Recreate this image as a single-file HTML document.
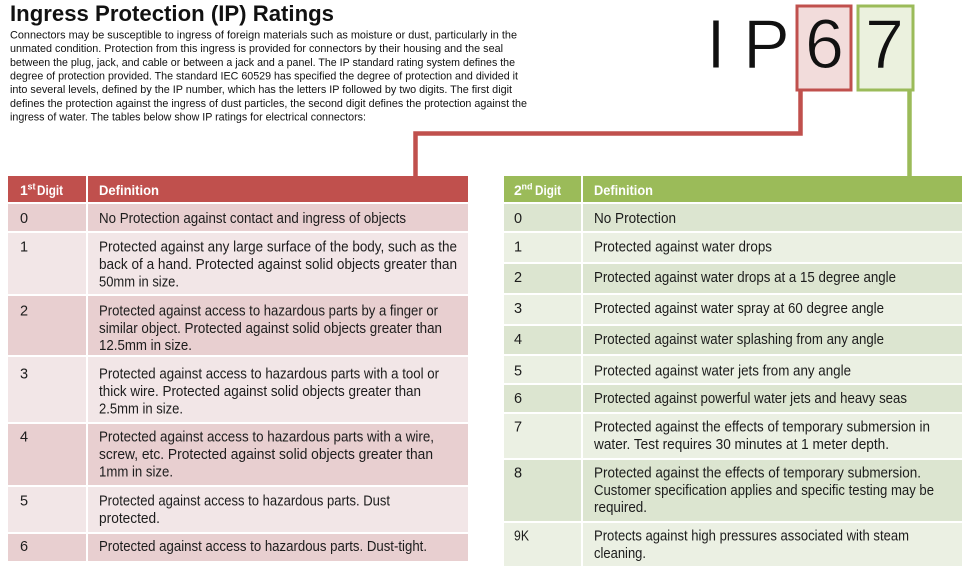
<!DOCTYPE html>
<html><head><meta charset="utf-8"><style>
html,body{margin:0;padding:0;background:#fff;}
svg{display:block;}
text{font-family:"Liberation Sans",Arial,sans-serif;}
.p{font-size:11.2px;fill:#111;}
.h{font-size:14px;font-weight:bold;fill:#fff;}
.b{font-size:14.5px;fill:#1c1c1c;}
.big{font-size:70px;fill:#111;}
</style></head><body>
<svg width="967" height="566" viewBox="0 0 967 566" xmlns="http://www.w3.org/2000/svg">
<rect width="967" height="566" fill="#fff"/>
<!-- Title -->
<text x="10" y="21" font-size="22" font-weight="bold" fill="#111" textLength="324" lengthAdjust="spacingAndGlyphs">Ingress Protection (IP) Ratings</text>
<!-- Paragraph -->
<text class="p" x="10" y="38.5" textLength="507" lengthAdjust="spacingAndGlyphs">Connectors may be susceptible to ingress of foreign materials such as moisture or dust, particularly in the</text>
<text class="p" x="10" y="52.2" textLength="493" lengthAdjust="spacingAndGlyphs">unmated condition. Protection from this ingress is provided for connectors by their housing and the seal</text>
<text class="p" x="10" y="65.8" textLength="505" lengthAdjust="spacingAndGlyphs">between the plug, jack, and cable or between a jack and a panel. The IP standard rating system defines the</text>
<text class="p" x="10" y="79.5" textLength="508" lengthAdjust="spacingAndGlyphs">degree of protection provided. The standard IEC 60529 has specified the degree of protection and divided it</text>
<text class="p" x="10" y="93.2" textLength="502" lengthAdjust="spacingAndGlyphs">into several levels, defined by the IP number, which has the letters IP followed by two digits. The first digit</text>
<text class="p" x="10" y="106.8" textLength="517" lengthAdjust="spacingAndGlyphs">defines the protection against the ingress of dust particles, the second digit defines the protection against the</text>
<text class="p" x="10" y="120.5" textLength="356" lengthAdjust="spacingAndGlyphs">ingress of water. The tables below show IP ratings for electrical connectors:</text>

<!-- IP67 graphic -->
<rect x="797" y="6" width="54" height="84" fill="#f2dcdb" stroke="#c0504d" stroke-width="3"/>
<rect x="858" y="6" width="55" height="84" fill="#ebf1de" stroke="#9bbb59" stroke-width="3"/>
<text class="big" x="716" y="68" text-anchor="middle" stroke="#fff" stroke-width="1">I</text>
<text class="big" x="766.5" y="68" text-anchor="middle" stroke="#fff" stroke-width="1">P</text>
<text class="big" x="824.5" y="68" text-anchor="middle" stroke="#f2dcdb" stroke-width="1">6</text>
<text class="big" x="884.5" y="68" text-anchor="middle" stroke="#ebf1de" stroke-width="1">7</text>
<path d="M800.5 91.5 V133.5 H415.5 V177" fill="none" stroke="#c0504d" stroke-width="4.5"/>
<path d="M909.5 91.5 V177" fill="none" stroke="#9bbb59" stroke-width="4.5"/>

<!-- LEFT TABLE -->
<rect x="8" y="176" width="460" height="26" fill="#c0504d"/>
<rect x="8" y="204" width="460" height="27" fill="#e8cfd0"/>
<rect x="8" y="233" width="460" height="61" fill="#f2e6e7"/>
<rect x="8" y="296" width="460" height="59" fill="#e8cfd0"/>
<rect x="8" y="357" width="460" height="65" fill="#f2e6e7"/>
<rect x="8" y="424" width="460" height="61" fill="#e8cfd0"/>
<rect x="8" y="487" width="460" height="45" fill="#f2e6e7"/>
<rect x="8" y="534" width="460" height="27" fill="#e8cfd0"/>
<rect x="86" y="176" width="2" height="386" fill="#fff"/>

<text class="h" x="20" y="195">1</text>
<text x="27.5" y="189.5" font-size="9" font-weight="bold" fill="#fff">st</text>
<text class="h" x="37" y="195" textLength="26" lengthAdjust="spacingAndGlyphs">Digit</text>
<text class="h" x="99" y="195" textLength="60" lengthAdjust="spacingAndGlyphs">Definition</text>

<text class="b" x="20" y="223">0</text>
<text class="b" x="99" y="223" textLength="307" lengthAdjust="spacingAndGlyphs">No Protection against contact and ingress of objects</text>

<text class="b" x="20" y="251.5">1</text>
<text class="b" x="99" y="251.5" textLength="358" lengthAdjust="spacingAndGlyphs">Protected against any large surface of the body, such as the</text>
<text class="b" x="99" y="269" textLength="358" lengthAdjust="spacingAndGlyphs">back of a hand. Protected against solid objects greater than</text>
<text class="b" x="99" y="286.5" textLength="80" lengthAdjust="spacingAndGlyphs">50mm in size.</text>

<text class="b" x="20" y="315.5">2</text>
<text class="b" x="99" y="315.5" textLength="339" lengthAdjust="spacingAndGlyphs">Protected against access to hazardous parts by a finger or</text>
<text class="b" x="99" y="332.8" textLength="343" lengthAdjust="spacingAndGlyphs">similar object. Protected against solid objects greater than</text>
<text class="b" x="99" y="350" textLength="93" lengthAdjust="spacingAndGlyphs">12.5mm in size.</text>

<text class="b" x="20" y="378.5">3</text>
<text class="b" x="99" y="378.5" textLength="340" lengthAdjust="spacingAndGlyphs">Protected against access to hazardous parts with a tool or</text>
<text class="b" x="99" y="396" textLength="322" lengthAdjust="spacingAndGlyphs">thick wire. Protected against solid objects greater than</text>
<text class="b" x="99" y="413.5" textLength="84" lengthAdjust="spacingAndGlyphs">2.5mm in size.</text>

<text class="b" x="20" y="441.5">4</text>
<text class="b" x="99" y="441.5" textLength="335" lengthAdjust="spacingAndGlyphs">Protected against access to hazardous parts with a wire,</text>
<text class="b" x="99" y="459" textLength="334" lengthAdjust="spacingAndGlyphs">screw, etc. Protected against solid objects greater than</text>
<text class="b" x="99" y="476.5" textLength="74" lengthAdjust="spacingAndGlyphs">1mm in size.</text>

<text class="b" x="20" y="505.5">5</text>
<text class="b" x="99" y="505.5" textLength="291" lengthAdjust="spacingAndGlyphs">Protected against access to hazardous parts. Dust</text>
<text class="b" x="99" y="523" textLength="61" lengthAdjust="spacingAndGlyphs">protected.</text>

<text class="b" x="20" y="551">6</text>
<text class="b" x="99" y="551" textLength="328" lengthAdjust="spacingAndGlyphs">Protected against access to hazardous parts. Dust-tight.</text>

<!-- RIGHT TABLE -->
<rect x="504" y="176" width="458" height="26" fill="#9bbb59"/>
<rect x="504" y="204" width="458" height="27" fill="#dce5d0"/>
<rect x="504" y="233" width="458" height="29" fill="#ebf0e3"/>
<rect x="504" y="264" width="458" height="29" fill="#dce5d0"/>
<rect x="504" y="295" width="458" height="29" fill="#ebf0e3"/>
<rect x="504" y="326" width="458" height="28" fill="#dce5d0"/>
<rect x="504" y="356" width="458" height="27" fill="#ebf0e3"/>
<rect x="504" y="385" width="458" height="27" fill="#dce5d0"/>
<rect x="504" y="414" width="458" height="44" fill="#ebf0e3"/>
<rect x="504" y="460" width="458" height="61" fill="#dce5d0"/>
<rect x="504" y="523" width="458" height="43" fill="#ebf0e3"/>
<rect x="581" y="176" width="2" height="390" fill="#fff"/>

<text class="h" x="514" y="195">2</text>
<text x="521.5" y="189.5" font-size="9" font-weight="bold" fill="#fff">nd</text>
<text class="h" x="535" y="195" textLength="26" lengthAdjust="spacingAndGlyphs">Digit</text>
<text class="h" x="594" y="195" textLength="59" lengthAdjust="spacingAndGlyphs">Definition</text>

<text class="b" x="514" y="223">0</text>
<text class="b" x="594" y="223" textLength="82" lengthAdjust="spacingAndGlyphs">No Protection</text>
<text class="b" x="514" y="251.5">1</text>
<text class="b" x="594" y="251.5" textLength="178" lengthAdjust="spacingAndGlyphs">Protected against water drops</text>
<text class="b" x="514" y="282">2</text>
<text class="b" x="594" y="282" textLength="302" lengthAdjust="spacingAndGlyphs">Protected against water drops at a 15 degree angle</text>
<text class="b" x="514" y="313">3</text>
<text class="b" x="594" y="313" textLength="290" lengthAdjust="spacingAndGlyphs">Protected against water spray at 60 degree angle</text>
<text class="b" x="514" y="343.8">4</text>
<text class="b" x="594" y="343.8" textLength="290" lengthAdjust="spacingAndGlyphs">Protected against water splashing from any angle</text>
<text class="b" x="514" y="375.5">5</text>
<text class="b" x="594" y="375.5" textLength="257" lengthAdjust="spacingAndGlyphs">Protected against water jets from any angle</text>
<text class="b" x="514" y="403">6</text>
<text class="b" x="594" y="403" textLength="313" lengthAdjust="spacingAndGlyphs">Protected against powerful water jets and heavy seas</text>
<text class="b" x="514" y="431.5">7</text>
<text class="b" x="594" y="431.5" textLength="336" lengthAdjust="spacingAndGlyphs">Protected against the effects of temporary submersion in</text>
<text class="b" x="594" y="449" textLength="295" lengthAdjust="spacingAndGlyphs">water. Test requires 30 minutes at 1 meter depth.</text>
<text class="b" x="514" y="477.5">8</text>
<text class="b" x="594" y="477.5" textLength="327" lengthAdjust="spacingAndGlyphs">Protected against the effects of temporary submersion.</text>
<text class="b" x="594" y="495" textLength="340" lengthAdjust="spacingAndGlyphs">Customer specification applies and specific testing may be</text>
<text class="b" x="594" y="512" textLength="53" lengthAdjust="spacingAndGlyphs">required.</text>
<text class="b" x="514" y="540.5" textLength="15" lengthAdjust="spacingAndGlyphs">9K</text>
<text class="b" x="594" y="540.5" textLength="315" lengthAdjust="spacingAndGlyphs">Protects against high pressures associated with steam</text>
<text class="b" x="594" y="558" textLength="52" lengthAdjust="spacingAndGlyphs">cleaning.</text>
</svg>
</body></html>
